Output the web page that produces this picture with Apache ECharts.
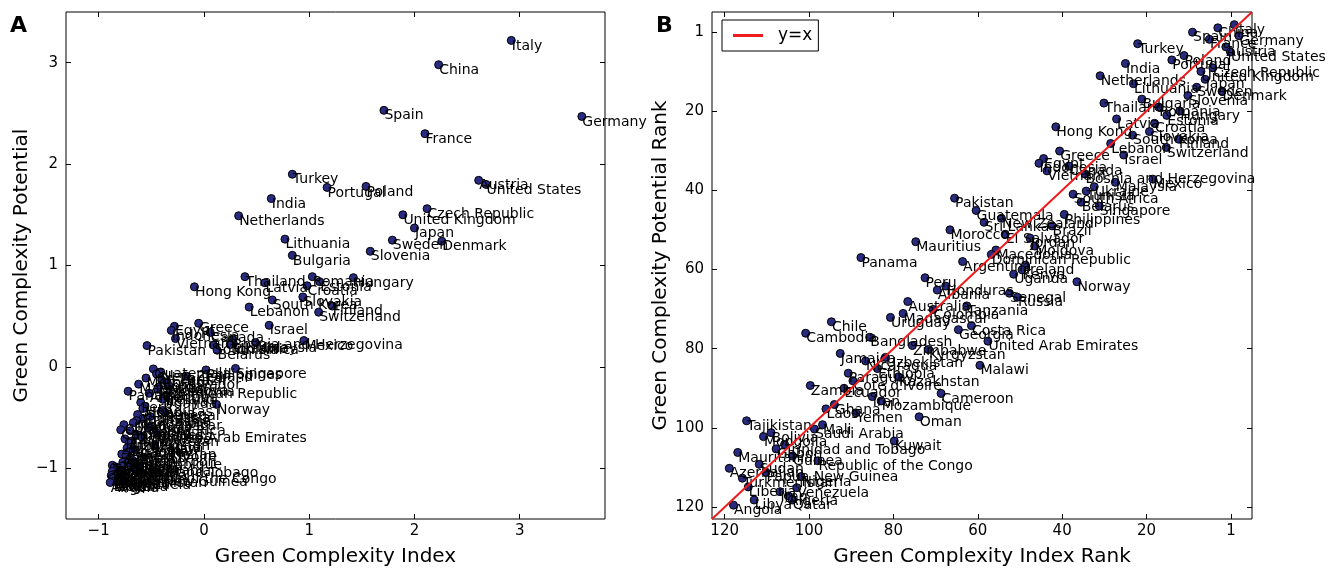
<!DOCTYPE html>
<html>
<head>
<meta charset="utf-8">
<title>Green Complexity</title>
<script src="https://cdn.jsdelivr.net/npm/echarts@6/dist/echarts.min.js"></script>
<style>
  html, body { margin: 0; padding: 0; background: #fff; }
  #chart { width: 1333px; height: 568px; }
</style>
</head>
<body>
<div id="chart"></div>
<script>
// Country names (same order in every array below)
const countries = [
  "Italy", "China", "Spain", "Germany", "France", "Turkey", "Austria", "United States", "Poland", "Portugal",
  "India", "Czech Republic", "United Kingdom", "Netherlands", "Japan", "Lithuania", "Sweden", "Denmark", "Slovenia", "Bulgaria",
  "Thailand", "Romania", "Hungary", "Estonia", "Latvia", "Croatia", "Hong Kong", "Slovakia", "South Korea", "Finland",
  "Lebanon", "Switzerland", "Greece", "Israel", "Egypt", "Indonesia", "Canada", "Vietnam", "Bosnia and Herzegovina", "Mexico",
  "Malaysia", "Ukraine", "Tunisia", "South Africa", "Belarus", "Singapore", "Pakistan", "Guatemala", "Philippines", "New Zealand",
  "Sri Lanka", "Brazil", "Morocco", "El Salvador", "Jordan", "Mauritius", "Moldova", "Macedonia", "Dominican Republic", "Panama",
  "Argentina", "Ireland", "Kenya", "Uganda", "Norway", "Peru", "Honduras", "Albania", "Senegal", "Russia",
  "Australia", "Tanzania", "Colombia", "Madagascar", "Uruguay", "Chile", "Costa Rica", "Georgia", "Cambodia", "Bangladesh",
  "United Arab Emirates", "Zimbabwe", "Kyrgyzstan", "Jamaica", "Uzbekistan", "Nicaragua", "Malawi", "Ethiopia", "Paraguay", "Kazakhstan",
  "Cote d'Ivoire", "Zambia", "Ecuador", "Cameroon", "Iran", "Mozambique", "Ghana", "Laos", "Yemen", "Oman",
  "Tajikistan", "Mali", "Saudi Arabia", "Bolivia", "Mongolia", "Kuwait", "Trinidad and Tobago", "Gabon", "Mauritania", "Guinea",
  "Republic of the Congo", "Sudan", "Azerbaijan", "Papua New Guinea", "Nigeria", "Turkmenistan", "Liberia", "Venezuela", "Iraq", "Algeria",
  "Qatar", "Libya", "Angola"
];

// Panel A: Green Complexity Index
const gci = [
  2.92, 2.23, 1.71, 3.59, 2.10, 0.84, 2.61, 2.68, 1.54, 1.17,
  0.64, 2.12, 1.89, 0.33, 2.00, 0.77, 1.79, 2.26, 1.58, 0.84,
  0.39, 1.03, 1.42, 1.10, 0.58, 0.98, -0.09, 0.94, 0.65, 1.22,
  0.43, 1.09, -0.05, 0.62, -0.28, -0.31, 0.06, -0.27, 0.27, 0.95,
  0.49, 0.28, 0.25, 0.09, 0.125, 0.30, -0.54, -0.48, 0.02, -0.41,
  -0.45, -0.17, -0.55, -0.40, -0.35, -0.62, -0.33, -0.43, -0.44, -0.72,
  -0.52, -0.36, -0.37, -0.39, 0.12, -0.60, -0.56, -0.58, -0.39, -0.37,
  -0.63, -0.51, -0.58, -0.64, -0.67, -0.76, -0.50, -0.53, -0.79, -0.70,
  -0.45, -0.63, -0.59, -0.75, -0.68, -0.71, -0.47, -0.69, -0.73, -0.65,
  -0.72, -0.78, -0.74, -0.57, -0.70, -0.68, -0.75, -0.77, -0.72, -0.61,
  -0.87, -0.77, -0.78, -0.84, -0.85, -0.66, -0.82, -0.83, -0.87, -0.81,
  -0.78, -0.85, -0.88, -0.84, -0.80, -0.87, -0.86, -0.81, -0.82, -0.81,
  -0.82, -0.86, -0.89
];

// Panel A: Green Complexity Potential
const gcp = [
  3.22, 2.98, 2.53, 2.47, 2.30, 1.90, 1.84, 1.80, 1.78, 1.77,
  1.66, 1.56, 1.50, 1.49, 1.37, 1.26, 1.25, 1.24, 1.14, 1.10,
  0.89, 0.89, 0.88, 0.84, 0.83, 0.80, 0.79, 0.69, 0.66, 0.60,
  0.59, 0.54, 0.43, 0.41, 0.40, 0.36, 0.34, 0.28, 0.27, 0.26,
  0.24, 0.23, 0.22, 0.215, 0.165, -0.015, 0.21, -0.02, -0.03, -0.05,
  -0.07, -0.09, -0.11, -0.13, -0.15, -0.17, -0.19, -0.20, -0.22, -0.24,
  -0.26, -0.28, -0.30, -0.32, -0.37, -0.35, -0.39, -0.41, -0.43, -0.45,
  -0.47, -0.49, -0.51, -0.53, -0.55, -0.57, -0.58, -0.60, -0.62, -0.63,
  -0.65, -0.67, -0.69, -0.71, -0.73, -0.75, -0.77, -0.79, -0.80, -0.82,
  -0.84, -0.86, -0.87, -0.89, -0.90, -0.92, -0.93, -0.94, -0.95, -0.96,
  -0.97, -0.975, -0.98, -0.985, -0.99, -1.00, -1.00, -1.02, -1.03, -1.04,
  -1.05, -1.06, -1.07, -1.08, -1.09, -1.09, -1.10, -1.11, -1.12, -1.13,
  -1.13, -1.13, -1.14
];

// Panel B: positions on the rank axes
const gciRank = [
  -0.8, 3.1, 9.1, -1.9, 5.1, 22.1, 1.2, 0.1, 11.1, 14.0,
  25.0, 4.3, 7.1, 31.0, 6.1, 23.1, 8.1, 2.1, 10.2, 21.1,
  30.1, 17.1, 12.1, 15.2, 27.1, 18.1, 41.5, 19.3, 23.3, 12.4,
  28.5, 15.3, 40.6, 25.4, 44.4, 45.5, 38.4, 43.6, 34.6, 18.5,
  27.4, 32.4, 34.3, 37.4, 35.5, 31.2, 65.5, 60.4, 39.5, 54.4,
  58.5, 42.4, 66.6, 53.5, 47.6, 74.7, 46.5, 55.7, 56.8, 87.7,
  63.6, 48.7, 49.5, 51.5, 36.5, 72.5, 67.6, 69.6, 52.5, 50.6,
  76.6, 62.6, 70.6, 77.7, 80.7, 94.7, 61.5, 64.6, 100.8, 85.6,
  57.6, 75.5, 71.7, 92.6, 81.9, 86.6, 59.5, 83.8, 90.7, 78.8,
  89.6, 99.7, 91.7, 68.7, 85.0, 82.9, 94.0, 96.0, 88.9, 73.9,
  114.8, 96.8, 98.7, 109.0, 110.8, 79.8, 105.8, 107.8, 116.9, 103.9,
  97.9, 111.8, 118.9, 110.2, 101.9, 115.8, 114.4, 102.9, 106.9, 104.9,
  104.0, 113.0, 117.9
];

const gcpRank = [
  -1.8, -1.0, 0.1, 1.0, 1.9, 3.0, 3.8, 5.1, 6.0, 7.1,
  8.0, 9.1, 10.0, 11.1, 12.0, 13.1, 14.0, 15.0, 16.1, 17.0,
  18.0, 19.0, 20.0, 21.1, 22.0, 23.1, 24.0, 25.2, 26.1, 27.1,
  28.2, 29.2, 30.1, 31.1, 32.0, 33.2, 33.9, 35.1, 35.9, 37.2,
  38.0, 39.1, 40.2, 41.0, 43.0, 44.0, 42.0, 45.1, 46.1, 47.1,
  48.1, 49.0, 50.0, 51.1, 52.1, 53.0, 54.1, 55.1, 56.2, 57.0,
  58.0, 58.9, 60.1, 61.2, 63.1, 62.1, 64.2, 65.2, 66.0, 67.0,
  68.1, 69.2, 70.1, 71.1, 72.1, 73.2, 74.2, 75.2, 76.1, 77.1,
  78.1, 79.2, 80.2, 81.2, 82.2, 83.1, 84.2, 85.0, 86.2, 87.1,
  88.1, 89.3, 90.0, 91.3, 92.1, 93.2, 94.1, 95.2, 96.2, 97.2,
  98.2, 99.2, 100.3, 101.2, 102.2, 103.3, 104.2, 105.3, 106.2, 107.1,
  108.3, 109.2, 110.2, 111.2, 112.3, 112.7, 114.9, 115.1, 116.1, 117.2,
  118.2, 118.2, 119.5
];

// tick labels
const ticksA = [-1, 0, 1, 2, 3];
const ticksRank = [0, 20, 40, 60, 80, 100, 120];
const rankLabels = ["1", "20", "40", "60", "80", "100", "120"];
const diagonal = [[-5, -5], [123, 123]];

const FONT = "DejaVu Sans";

const pointsA = countries.map((name, i) => ({ name: name, value: [gci[i], gcp[i]] }));
const pointsB = countries.map((name, i) => ({ name: name, value: [gciRank[i], gcpRank[i]] }));

const minusFmt = (v) => (v < 0 ? "\u2212" + Math.abs(v) : String(v));
const rankFmt = (v) => rankLabels[ticksRank.indexOf(v)] || "";

// one axis; the top / right copies only carry ticks
function makeAxis(opts) {
  return {
    type: "value",
    gridIndex: opts.grid,
    position: opts.position,
    min: opts.min,
    max: opts.max,
    inverse: !!opts.inverse,
    name: opts.name || "",
    nameLocation: "middle",
    nameGap: opts.nameGap || 0,
    nameTextStyle: { fontFamily: FONT, fontSize: 20, color: "#000" },
    axisLine: { show: false, onZero: false },
    splitLine: { show: false },
    axisTick: {
      show: true,
      inside: true,
      length: 5,
      customValues: opts.ticks,
      lineStyle: { color: "#000", width: 1 }
    },
    axisLabel: {
      show: !!opts.labels,
      customValues: opts.ticks,
      formatter: opts.fmt,
      fontFamily: FONT,
      fontSize: 15,
      color: "#000",
      margin: opts.margin || 6
    }
  };
}

const scatterStyle = {
  color: "#282b80",
  borderColor: "#000",
  borderWidth: 1,
  opacity: 1
};

const labelStyle = {
  show: true,
  formatter: "{b}",
  position: [5, 3],
  align: "left",
  verticalAlign: "top",
  fontFamily: FONT,
  fontSize: 14,
  color: "#000"
};

const chart = echarts.init(document.getElementById("chart"), null, { renderer: "canvas" });

const option = {
  animation: false,
  backgroundColor: "#fff",
  grid: [
    { left: 66, top: 12, width: 539, height: 507, show: true, borderColor: "#000", borderWidth: 1, outerBoundsMode: "none" },
    { left: 712, top: 12, width: 540, height: 507, show: true, borderColor: "#000", borderWidth: 1, outerBoundsMode: "none" }
  ],
  xAxis: [
    makeAxis({ grid: 0, position: "bottom", min: -1.31, max: 3.81, ticks: ticksA, labels: true, fmt: minusFmt,
               name: "Green Complexity Index", nameGap: 28, margin: 5 }),
    makeAxis({ grid: 0, position: "top", min: -1.31, max: 3.81, ticks: ticksA }),
    makeAxis({ grid: 1, position: "bottom", min: -5, max: 123, inverse: true, ticks: ticksRank, labels: true, fmt: rankFmt,
               name: "Green Complexity Index Rank", nameGap: 28, margin: 5 }),
    makeAxis({ grid: 1, position: "top", min: -5, max: 123, inverse: true, ticks: ticksRank })
  ],
  yAxis: [
    makeAxis({ grid: 0, position: "left", min: -1.5, max: 3.5, ticks: ticksA, labels: true, fmt: minusFmt,
               name: "Green Complexity Potential", nameGap: 34, margin: 8 }),
    makeAxis({ grid: 0, position: "right", min: -1.5, max: 3.5, ticks: ticksA }),
    makeAxis({ grid: 1, position: "left", min: -5, max: 123, inverse: true, ticks: ticksRank, labels: true, fmt: rankFmt,
               name: "Green Complexity Potential Rank", nameGap: 41, margin: 8 }),
    makeAxis({ grid: 1, position: "right", min: -5, max: 123, inverse: true, ticks: ticksRank })
  ],
  legend: {
    data: [{ name: "y=x", icon: "rect" }],
    left: 722,
    top: 20,
    backgroundColor: "#fff",
    borderColor: "#000",
    borderWidth: 1,
    borderRadius: 0,
    padding: [7, 6, 7, 11],
    itemWidth: 30,
    itemHeight: 3,
    textStyle: { fontFamily: FONT, fontSize: 17, color: "#000", padding: [0, 0, 0, 10], lineHeight: 17 }
  },
  graphic: [
    { type: "text", left: 10, top: 15, style: { text: "A", font: "bold 22px 'DejaVu Sans'", fill: "#000" } },
    { type: "text", left: 656, top: 15, style: { text: "B", font: "bold 22px 'DejaVu Sans'", fill: "#000" } }
  ],
  series: [
    {
      type: "scatter",
      xAxisIndex: 0,
      yAxisIndex: 0,
      symbolSize: 8,
      itemStyle: scatterStyle,
      label: labelStyle,
      emphasis: { disabled: true },
      data: pointsA
    },
    {
      type: "scatter",
      xAxisIndex: 2,
      yAxisIndex: 2,
      symbolSize: 8,
      itemStyle: scatterStyle,
      label: labelStyle,
      emphasis: { disabled: true },
      data: pointsB
    },
    {
      name: "y=x",
      type: "line",
      xAxisIndex: 2,
      yAxisIndex: 2,
      symbol: "none",
      lineStyle: { color: "#ee1c1c", width: 2 },
      itemStyle: { color: "#ee1c1c" },
      z: 3,
      data: diagonal
    }
  ]
};

chart.setOption(option);
</script>
</body>
</html>
